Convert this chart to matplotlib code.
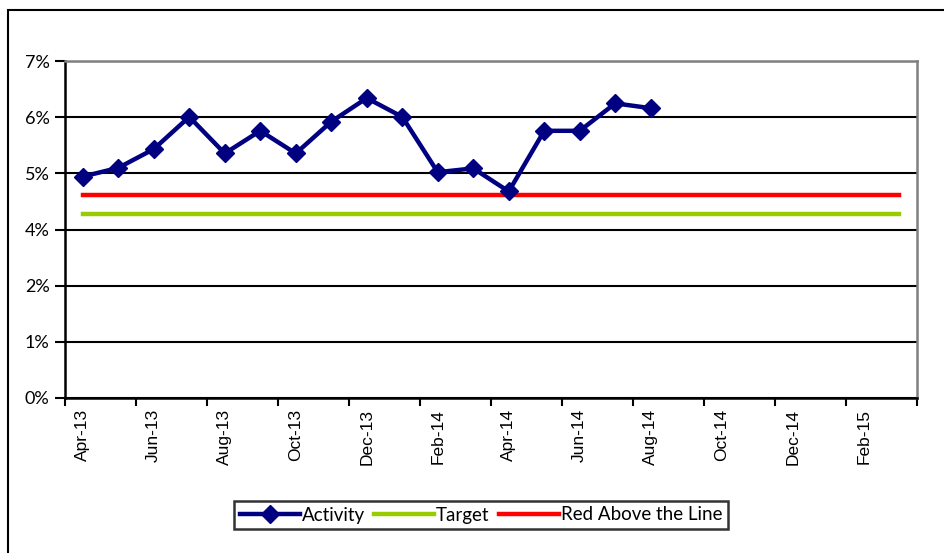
import matplotlib.pyplot as plt
from matplotlib.patches import Rectangle

# Mois (avr. 2013 -> mars 2015)
months = ["Apr-13", "May-13", "Jun-13", "Jul-13", "Aug-13", "Sep-13", "Oct-13", "Nov-13",
          "Dec-13", "Jan-14", "Feb-14", "Mar-14", "Apr-14", "May-14", "Jun-14", "Jul-14",
          "Aug-14", "Sep-14", "Oct-14", "Nov-14", "Dec-14", "Jan-15", "Feb-15", "Mar-15"]

# Valeurs en %
activity = [4.60, 4.78, 5.17, 5.84, 5.08, 5.55, 5.08, 5.74, 6.23, 5.84, 4.69, 4.77,
            4.29, 5.55, 5.55, 6.12, 6.02]
target = [3.83] * len(months)
red_line = [4.21] * len(months)

y_max = 7.0
y_ticks = [i * y_max / 6 for i in range(7)]

fig = plt.figure(figsize=(9.44, 5.53), dpi=100)
ax = fig.add_axes([65 / 944, 1 - 398 / 553, 852 / 944, 337 / 553])

# Cadre extérieur du graphique
fig.patches.append(Rectangle((8 / 944, -0.1), 1.1, 1 - 10 / 553 + 0.1, transform=fig.transFigure,
                             fill=False, edgecolor="black", linewidth=1.5))

x = list(range(len(months)))
ax.plot(x, red_line, color="#FF0000", linewidth=3.2, label="Red Above the Line", zorder=3)
ax.plot(x, target, color="#99CC00", linewidth=3.2, label="Target", zorder=3)
ax.plot(x[:len(activity)], activity, color="#000080", linewidth=3.2, marker="D",
        markersize=9, label="Activity", zorder=4)

ax.set_xlim(-0.5, len(months) - 0.5)
ax.set_ylim(0, y_max)

ax.set_yticks(y_ticks)
ax.set_yticklabels([f"{round(v + 1e-9):.0f}%" for v in y_ticks], family="Lato", fontsize=13)
ax.yaxis.grid(True, color="black", linewidth=1.5)
ax.set_axisbelow(True)

ax.set_xticks([i - 0.5 for i in range(0, len(months) + 1, 2)])
ax.set_xticklabels([])
ax.set_xticks(x[::2], minor=True)
ax.set_xticklabels(months[::2], minor=True, rotation=90, family="Liberation Sans", fontsize=12.5)
ax.tick_params(axis="x", which="minor", length=0, pad=8)
ax.tick_params(axis="x", which="major", length=6, width=1.5, direction="out")
ax.tick_params(axis="y", length=7, width=1.5, direction="out", pad=4)

for side in ["left", "bottom"]:
    ax.spines[side].set_color("black")
    ax.spines[side].set_linewidth(1.8)
for side in ["top", "right"]:
    ax.spines[side].set_color("#808080")
    ax.spines[side].set_linewidth(1.8)

handles, labels = ax.get_legend_handles_labels()
order = [2, 1, 0]
leg = fig.legend([handles[i] for i in order], [labels[i] for i in order],
                 loc="center", bbox_to_anchor=(481 / 944, 1 - 515 / 553), ncol=3,
                 frameon=True, fancybox=False, edgecolor="black", prop={"family": "Lato", "size": 13.5},
                 handlelength=3.2, handletextpad=0.1, columnspacing=0.5, borderpad=0.3)
leg.get_frame().set_linewidth(1.8)

fig.savefig("out.png", dpi=100)
